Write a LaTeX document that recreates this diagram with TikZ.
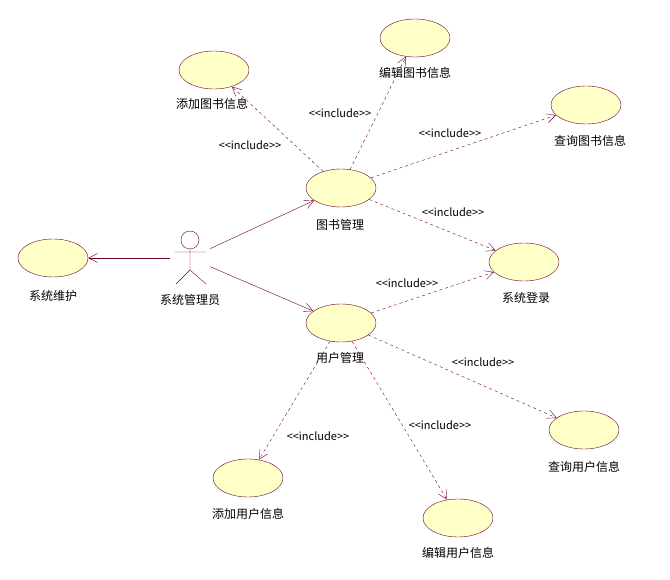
\documentclass[tikz,border=0pt]{standalone}
\usepackage{fontspec}
\setmainfont{Noto Sans CJK SC}
\usetikzlibrary{arrows.meta,shapes.geometric}
\definecolor{umlline}{RGB}{110,0,50}
\definecolor{umlfill}{RGB}{255,255,200}
\tikzset{
  usecase/.style={ellipse, draw=umlline, fill=umlfill, minimum width=70pt, minimum height=38pt, inner sep=0pt},
  ucname/.style={font=\fontsize{12pt}{14pt}\selectfont},
  assoc/.style={draw=umlline, -{Straight Barb[length=9pt,width=9pt]}},
  incl/.style={draw=umlline, dashed, -{Straight Barb[length=9pt,width=9pt]}},
  incltext/.style={font=\fontsize{11pt}{13pt}\selectfont}
}
\begin{document}
\begin{tikzpicture}[x=1pt, y=-1pt, thin]
\useasboundingbox (0,0) rectangle (670,580);
% use cases
\node[usecase] (tjts) at (214,70) {};
\node[ucname] at (212,104) {添加图书信息};
\node[usecase] (bjts) at (415,38) {};
\node[ucname] at (415,73) {编辑图书信息};
\node[usecase] (cxts) at (586,105) {};
\node[ucname] at (590,141) {查询图书信息};
\node[usecase] (tsgl) at (341,188) {};
\node[ucname] at (340,225) {图书管理};
\node[usecase] (xtdl) at (524,262) {};
\node[ucname] at (526,298) {系统登录};
\node[usecase] (yhgl) at (341,323) {};
\node[ucname] at (340,358) {用户管理};
\node[usecase] (xtwh) at (53,258) {};
\node[ucname] at (53,296) {系统维护};
\node[usecase] (cxyh) at (584,430) {};
\node[ucname] at (584,467) {查询用户信息};
\node[usecase] (tjyh) at (248,478) {};
\node[ucname] at (248,514) {添加用户信息};
\node[usecase] (bjyh) at (458,518) {};
\node[ucname] at (458,553) {编辑用户信息};
% actor
\node[minimum width=40pt, minimum height=52pt, inner sep=0pt] (admin) at (190,258) {};
\draw[umlline] (190,240) circle (9pt);
\draw[umlline] (190,249) -- (190,270) (175,252) -- (206,252)
  (176,284) -- (190,270) -- (206,284);
\node[ucname] at (190,300) {系统管理员};
% associations
\draw[assoc] (admin) -- (tsgl);
\draw[assoc] (admin) -- (yhgl);
\draw[assoc] (admin) -- (xtwh);
% includes
\draw[incl] (tsgl) -- (tjts);
\node[incltext] at (250,145) {<{}<include>{}>};
\draw[incl] (tsgl) -- (bjts);
\node[incltext] at (340,113) {<{}<include>{}>};
\draw[incl] (tsgl) -- (cxts);
\node[incltext] at (450,133) {<{}<include>{}>};
\draw[incl] (tsgl) -- (xtdl);
\node[incltext] at (453,212) {<{}<include>{}>};
\draw[incl] (yhgl) -- (xtdl);
\node[incltext] at (407,283) {<{}<include>{}>};
\draw[incl] (yhgl) -- (cxyh);
\node[incltext] at (483,362) {<{}<include>{}>};
\draw[incl] (yhgl) -- (tjyh);
\node[incltext] at (318,436) {<{}<include>{}>};
\draw[incl] (yhgl) -- (bjyh);
\node[incltext] at (440,425) {<{}<include>{}>};
\end{tikzpicture}
\end{document}
